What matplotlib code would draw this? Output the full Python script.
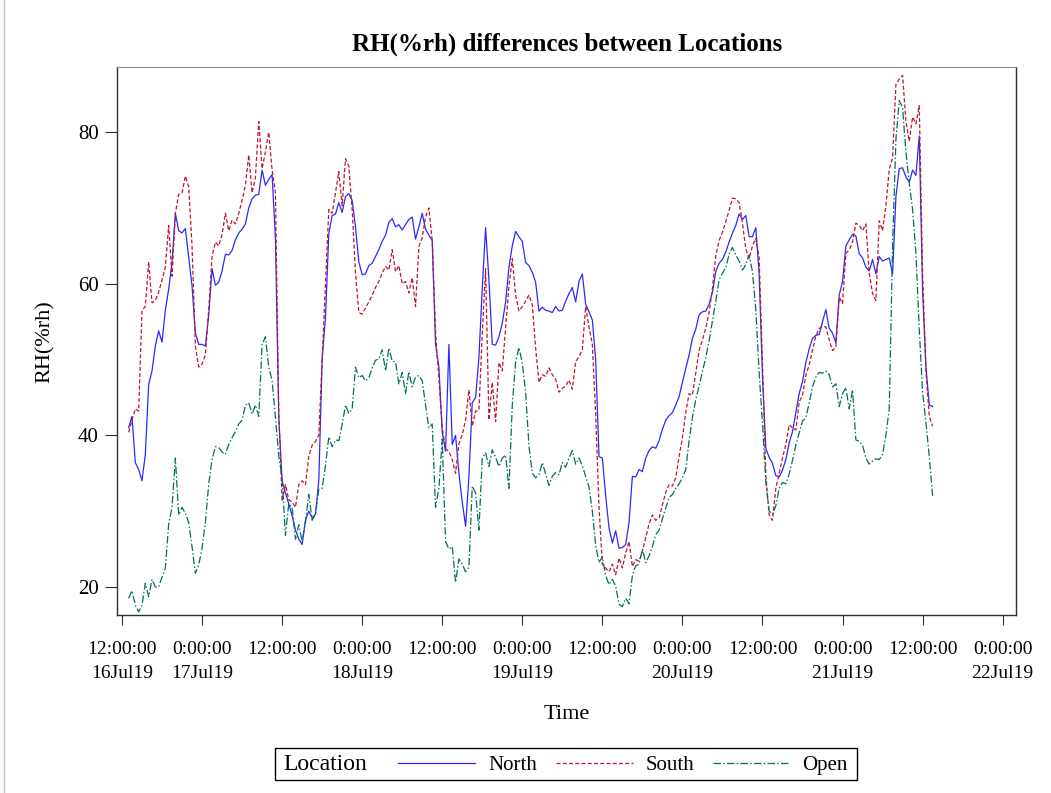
import pandas as pd
import matplotlib
matplotlib.use('Agg')
import matplotlib.pyplot as plt
from matplotlib.patches import Rectangle
from matplotlib.lines import Line2D

plt.rcParams['font.family'] = ['Liberation Serif', 'DejaVu Serif']

# half-hourly logger readings, RH in %rh
time = pd.date_range('2019-07-16 13:00', periods=242, freq='30min')

north = [
    41.0, 42.5, 36.4, 35.5, 34.0, 37.5, 46.7, 48.5, 51.8, 53.8, 52.3, 56.5,
    59.3, 62.8, 69.3, 67.0, 66.7, 67.3, 63.5, 59.7, 53.5, 52.0, 52.0, 51.8,
    55.9, 62.0, 59.8, 60.2, 61.7, 63.9, 63.8, 64.4, 65.8, 66.7, 67.2, 67.9,
    70.0, 71.2, 71.7, 71.8, 75.0, 73.0, 73.8, 74.4, 66.0, 42.4, 34.0, 32.4,
    31.0, 29.4, 27.5, 26.3, 25.6, 28.8, 30.0, 29.1, 29.6, 34.0, 50.0, 55.6,
    66.6, 69.0, 69.2, 70.7, 69.4, 71.5, 71.9, 71.0, 67.5, 62.9, 61.2, 61.3,
    62.4, 62.7, 63.6, 64.5, 65.6, 66.4, 68.1, 68.6, 67.5, 67.8, 67.1, 67.8,
    68.5, 68.8, 65.9, 67.5, 69.3, 67.2, 66.4, 65.7, 52.0, 49.0, 40.4, 37.9,
    52.0, 38.8, 40.0, 35.0, 31.2, 28.0, 34.5, 44.3, 45.0, 50.3, 59.4, 67.4,
    60.5, 52.0, 51.9, 53.0, 54.8, 57.6, 62.2, 65.0, 66.9, 66.2, 65.6, 62.8,
    62.4, 61.5, 60.2, 56.4, 56.9, 56.5, 56.4, 56.2, 57.0, 56.4, 56.5, 57.7,
    58.7, 59.5, 57.6, 60.3, 61.3, 57.3, 56.3, 55.2, 50.0, 37.2, 37.0, 32.0,
    27.8, 25.8, 27.4, 25.1, 25.2, 25.6, 28.5, 34.6, 34.5, 35.5, 35.2, 37.0,
    38.0, 38.5, 38.3, 39.3, 40.8, 42.0, 42.6, 43.0, 44.0, 45.1, 47.0, 48.8,
    50.6, 52.8, 54.0, 55.9, 56.3, 56.4, 57.3, 58.9, 61.6, 62.7, 63.2, 64.2,
    65.5, 66.7, 67.7, 69.2, 68.5, 69.0, 66.2, 66.2, 67.4, 61.3, 47.8, 38.3,
    37.1, 36.3, 34.7, 34.5, 35.4, 36.8, 39.0, 40.5, 43.0, 45.5, 47.1, 49.6,
    51.4, 52.8, 53.2, 53.3, 55.0, 56.6, 54.1, 53.5, 52.2, 58.5, 60.3, 65.0,
    65.8, 66.5, 66.3, 64.0, 63.4, 62.2, 61.7, 63.2, 61.3, 63.6, 63.0, 63.2,
    63.4, 61.3, 71.5, 75.2, 75.3, 74.1, 73.4, 75.0, 74.3, 79.5, 59.0, 49.0,
    44.0, 43.8,
]

south = [
    40.4, 42.0, 43.5, 43.2, 56.5, 57.0, 62.9, 57.5, 57.8, 58.9, 60.5, 62.2,
    67.7, 61.0, 69.3, 71.8, 72.0, 74.2, 72.8, 65.0, 51.8, 49.0, 49.4, 50.6,
    56.5, 63.6, 65.5, 65.0, 66.5, 69.3, 67.0, 68.4, 67.9, 69.3, 71.0, 73.0,
    77.0, 72.0, 74.0, 81.4, 75.2, 77.4, 80.0, 75.0, 72.0, 43.0, 31.3, 33.5,
    31.5, 31.2, 30.5, 33.5, 34.0, 33.5, 37.2, 38.7, 39.2, 40.0, 50.0, 60.0,
    69.8, 69.3, 72.0, 74.8, 70.3, 76.5, 75.5, 69.8, 61.5, 56.2, 56.0, 56.8,
    57.6, 58.5, 59.5, 60.3, 61.4, 62.3, 61.8, 64.5, 61.6, 62.4, 60.0, 60.3,
    58.8, 60.8, 57.0, 64.9, 66.1, 68.8, 70.0, 65.7, 53.5, 47.5, 41.0, 38.2,
    37.9, 36.8, 35.0, 38.9, 40.1, 42.0, 46.0, 41.2, 43.2, 43.3, 53.4, 62.0,
    42.0, 47.0, 41.8, 49.6, 48.5, 54.2, 59.7, 63.3, 58.5, 56.4, 57.0, 57.7,
    58.5, 57.2, 51.5, 47.0, 48.0, 47.8, 48.9, 48.0, 47.4, 45.7, 46.2, 46.5,
    47.3, 46.1, 49.7, 50.4, 51.3, 57.0, 54.3, 52.0, 42.8, 30.5, 23.0, 22.5,
    22.0, 23.0, 21.6, 23.8, 22.5, 24.5, 26.0, 22.7, 23.6, 23.4, 24.7, 26.5,
    28.3, 29.5, 28.8, 29.1, 30.8, 32.5, 33.5, 33.3, 34.4, 37.2, 39.7, 43.0,
    45.5, 45.3, 48.3, 51.2, 52.6, 54.1, 56.2, 59.4, 63.7, 65.7, 66.8, 68.2,
    69.7, 71.3, 71.2, 70.7, 68.0, 64.6, 63.3, 65.0, 66.0, 63.5, 49.5, 34.8,
    29.5, 28.8, 33.0, 35.0, 37.0, 38.8, 41.4, 41.0, 40.7, 44.4, 45.3, 47.9,
    49.3, 51.3, 53.1, 54.1, 54.4, 54.3, 52.6, 51.2, 51.6, 58.2, 57.4, 64.0,
    64.5, 65.5, 68.0, 67.7, 67.0, 67.9, 61.4, 58.7, 57.8, 68.3, 67.0, 70.3,
    75.1, 76.6, 86.3, 87.0, 87.5, 81.4, 78.8, 82.0, 81.1, 83.5, 61.3, 48.5,
    42.5, 41.2,
]

open_site = [
    18.5, 19.5, 17.6, 16.7, 17.6, 20.5, 18.7, 21.0, 20.0, 20.0, 21.3, 22.5,
    28.3, 30.5, 37.0, 29.5, 30.5, 29.7, 28.5, 25.3, 21.8, 22.9, 25.1, 28.5,
    33.6, 36.8, 38.5, 38.4, 37.8, 37.5, 38.8, 39.7, 40.5, 41.5, 42.0, 44.0,
    44.3, 42.8, 44.0, 42.5, 52.0, 53.0, 49.0, 47.2, 42.4, 37.2, 34.5, 26.8,
    31.0, 30.5, 26.3, 28.2, 26.0, 28.5, 32.2, 28.8, 29.6, 32.9, 33.0, 36.0,
    39.8, 38.5, 39.4, 39.3, 41.4, 44.0, 42.9, 43.5, 49.0, 47.6, 47.9, 47.2,
    47.6, 48.9, 49.9, 50.1, 51.3, 48.5, 51.5, 49.8, 49.7, 46.8, 48.3, 45.5,
    48.4, 46.4, 47.7, 47.9, 47.2, 44.0, 41.0, 41.5, 30.5, 33.0, 39.5, 26.0,
    25.0, 25.3, 20.6, 23.7, 23.0, 22.0, 22.6, 33.3, 32.4, 27.5, 37.0, 37.7,
    35.9, 38.1, 37.1, 35.9, 37.0, 37.4, 33.0, 44.0, 49.7, 51.6, 49.5, 45.7,
    38.6, 35.0, 34.4, 34.8, 36.4, 34.9, 33.4, 34.6, 35.1, 34.8, 36.4, 35.8,
    37.0, 38.0, 36.2, 37.0, 36.0, 34.6, 33.2, 30.0, 25.5, 23.2, 24.0, 21.5,
    20.3, 21.0, 20.1, 17.7, 17.4, 18.5, 17.8, 21.5, 22.8, 23.0, 25.0, 23.2,
    24.1, 25.3, 26.9, 27.5, 29.0, 30.4, 31.8, 32.2, 33.0, 33.6, 34.4, 35.5,
    39.3, 42.4, 44.7, 46.5, 48.4, 50.3, 52.4, 55.1, 57.7, 60.5, 61.4, 62.1,
    63.9, 64.8, 63.8, 63.0, 61.8, 62.5, 63.8, 61.6, 56.6, 48.3, 41.6, 33.8,
    30.0, 29.6, 30.7, 33.0, 33.8, 33.6, 34.9, 36.7, 38.7, 40.3, 41.9, 42.3,
    44.3, 46.4, 47.7, 48.3, 48.2, 48.5, 48.0, 46.4, 46.8, 43.8, 45.5, 46.3,
    43.5, 46.0, 39.4, 39.2, 38.7, 37.0, 36.2, 36.6, 36.9, 36.8, 37.5, 40.0,
    43.5, 65.0, 79.0, 84.2, 83.2, 77.4, 73.3, 69.8, 64.0, 54.0, 45.7, 41.7,
    37.2, 32.0,
]

tick_times = pd.date_range('2019-07-16 12:00', '2019-07-22 00:00', freq='12h')
tick_labels = ['12:00:00\n16Jul19', '0:00:00\n17Jul19', '12:00:00',
               '0:00:00\n18Jul19', '12:00:00', '0:00:00\n19Jul19', '12:00:00',
               '0:00:00\n20Jul19', '12:00:00', '0:00:00\n21Jul19', '12:00:00',
               '0:00:00\n22Jul19']
y_ticks = [20, 40, 60, 80]

fig = plt.figure(figsize=(10.51, 7.93), dpi=100)
ax = fig.add_axes([0.1113, 0.2245, 0.8554, 0.691])

l1, = ax.plot(time, north, color='#2a2aff', lw=0.9, ls='-')
l2, = ax.plot(time, south, color='#c0142c', lw=0.9, ls=(0, (3.2, 1.8)))
l3, = ax.plot(time, open_site, color='#00705e', lw=0.9,
              ls=(0, (6, 1.8, 1.2, 1.8)))

ax.set_xlim(pd.Timestamp('2019-07-16 11:15'), pd.Timestamp('2019-07-22 02:00'))
ax.set_ylim(16.3, 88.6)
ax.set_xticks(tick_times)
ax.set_xticklabels(tick_labels, linespacing=1.6)
ax.set_yticks(y_ticks)

for side in ['left', 'bottom', 'right']:
    ax.spines[side].set_color('#303030')
    ax.spines[side].set_linewidth(1.0)
ax.spines['top'].set_color('#909090')
ax.spines['top'].set_linewidth(0.8)

ax.tick_params(axis='x', direction='out', length=7.5, width=0.8,
               labelsize=14, pad=11, color='#303030')
ax.tick_params(axis='y', direction='out', length=9, width=0.8,
               labelsize=15, pad=4, color='#303030')

ax.set_xlabel('Time', fontsize=16)
ax.xaxis.set_label_coords(0.5, -0.1825)
ax.xaxis.label.set_va('center')
ax.set_ylabel('RH(%rh)', fontsize=16)
ax.yaxis.set_label_coords(-0.080, 0.498)
ax.yaxis.label.set_va('center')

fig.text(0.5395, 1 - 44 / 793, 'RH(%rh) differences between Locations',
         ha='center', va='center', fontsize=18, fontweight='bold')

# legend box with the group title on the left
fig.legend([l1, l2, l3], ['North', 'South', 'Open'], ncol=3, loc='center',
           bbox_to_anchor=(623 / 1051, 1 - 765 / 793), frameon=False,
           fontsize=15, handlelength=3.7, handletextpad=0.6,
           columnspacing=0.9, borderpad=0)
fig.patches.append(Rectangle((275 / 1051, 1 - 780 / 793), 582 / 1051, 32 / 793,
                             transform=fig.transFigure, fill=False,
                             edgecolor='black', linewidth=1.0))
fig.text(283 / 1051, 1 - 765 / 793, 'Location', ha='left', va='center',
         fontsize=17)

# thin page border on the left
fig.lines.append(Line2D([3.5 / 1051, 3.5 / 1051], [0, 1],
                        transform=fig.transFigure, color='#c0c0c0', lw=1.0))

fig.savefig('out.png', dpi=100)
